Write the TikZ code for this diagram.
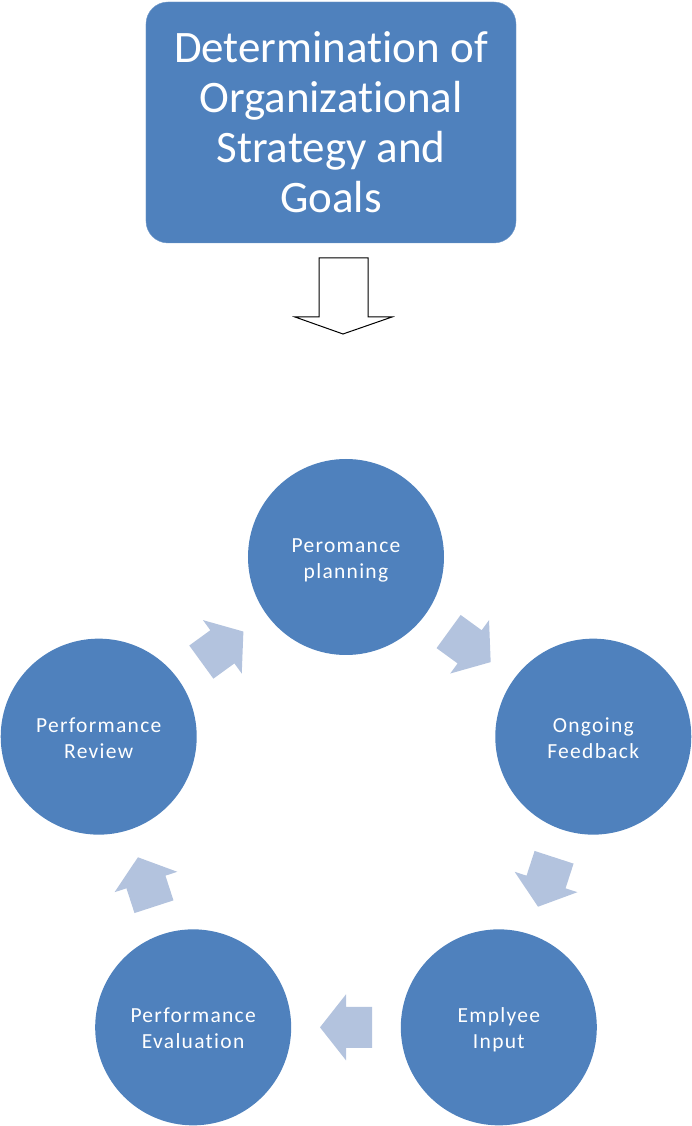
\documentclass[tikz,border=0pt]{standalone}
\usepackage{fontspec}
\setmainfont[Ligatures=NoCommon]{Carlito}
\newfontfamily\cyclefont[LetterSpace=6, Ligatures=NoCommon]{Carlito}
\usetikzlibrary{calc}

\definecolor{accentblue}{HTML}{4F81BD}
\definecolor{lightblue}{HTML}{B3C3DE}

\tikzset{
  goalbox/.style={fill=accentblue, draw=accentblue!80!white, rounded corners=22pt,
    minimum width=370pt, minimum height=241pt, align=center, text=white,
    font=\fontsize{45}{50}\selectfont},
  stage/.style={circle, fill=accentblue, minimum size=196pt, inner sep=0pt,
    text height=46pt, text depth=3pt,
    align=center, text=white, font=\cyclefont\fontsize{21.5}{26}\selectfont},
  cyclearrow/.style={fill=lightblue},
  hollowarrow/.style={draw=black, fill=white, line width=1pt, line join=miter}
}

\begin{document}
\begin{tikzpicture}[x=1pt, y=1pt]
    \useasboundingbox (-346, -309) rectangle (345, 817);
    % strategy box and arrow down
    \node [goalbox] (goals) at (-15, 694.5) {Determination of\\Organizational\\Strategy and\\Goals};
    \draw [hollowarrow] (-27, 559) -- (22, 559) -- (22, 500) -- (46, 500) -- (-3, 483)
      -- (-51, 500) -- (-27, 500) -- cycle;
    % cycle of stages
    \node [stage] (plan) at (90:260) {Peromance\\planning};
    \node [stage] (feedback) at (18:260) {Ongoing\\Feedback};
    \node [stage] (input) at (-54:260) {Emplyee\\Input};
    \node [stage] (evaluation) at (-126:260) {Performance\\Evaluation};
    \node [stage] (review) at (162:260) {Performance\\Review};
    \foreach \a/\b/\ang in {plan/feedback/-36, feedback/input/-108, input/evaluation/-180,
        evaluation/review/-252, review/plan/36}
      \fill [cyclearrow, shift={($(\a.center)!0.5!(\b.center)$)}, rotate=\ang]
        (-26, -20.5) -- (0, -20.5) -- (0, -33) -- (26, 0) -- (0, 33) -- (0, 20.5)
        -- (-26, 20.5) -- cycle;
\end{tikzpicture}
\end{document}
